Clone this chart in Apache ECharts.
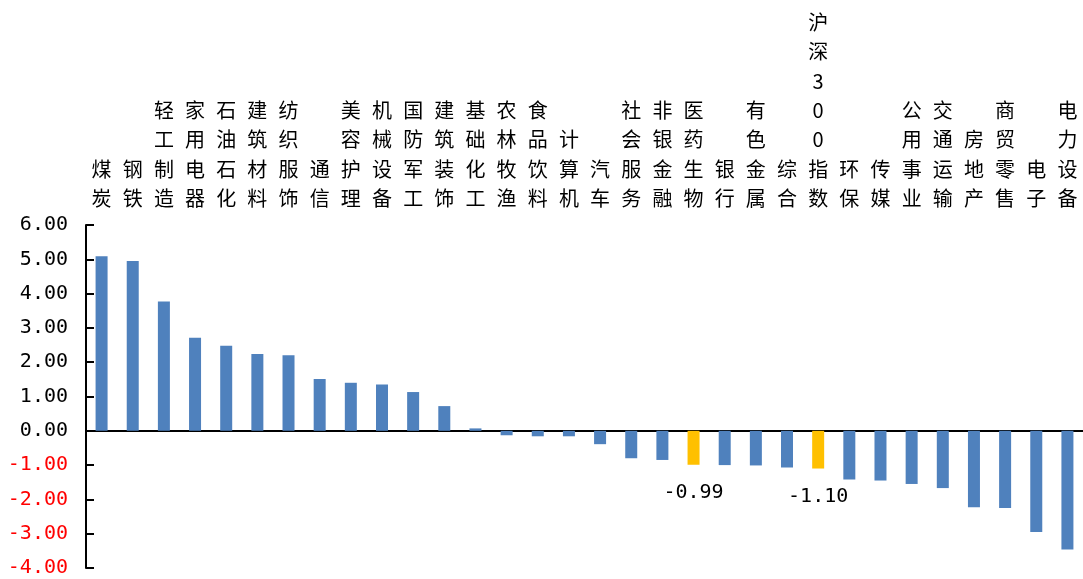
<!DOCTYPE html>
<html>
<head>
<meta charset="utf-8">
<script src="https://cdn.jsdelivr.net/npm/echarts@6/dist/echarts.min.js"></script>
<style>
  html, body { margin: 0; padding: 0; background: #fff; }
  #main { width: 1083px; height: 579px; }
</style>
</head>
<body>
<div id="main"></div>
<script>
// 行业涨跌幅（%）
var categories = ['煤炭', '钢铁', '轻工制造', '家用电器', '石油石化', '建筑材料', '纺织服饰', '通信',
  '美容护理', '机械设备', '国防军工', '建筑装饰', '基础化工', '农林牧渔', '食品饮料', '计算机',
  '汽车', '社会服务', '非银金融', '医药生物', '银行', '有色金属', '综合', '沪深300指数',
  '环保', '传媒', '公用事业', '交通运输', '房地产', '商贸零售', '电子', '电力设备'];
var values = [5.09, 4.95, 3.77, 2.71, 2.48, 2.24, 2.20, 1.51,
  1.40, 1.35, 1.13, 0.72, 0.07, -0.13, -0.16, -0.16,
  -0.39, -0.80, -0.85, -0.99, -1.00, -1.01, -1.07, -1.10,
  -1.42, -1.45, -1.55, -1.67, -2.23, -2.25, -2.95, -3.46];
var highlights = ['医药生物', '沪深300指数'];

var font = '"Noto Sans CJK SC", "Noto Sans", sans-serif';
var numFont = '"DejaVu Sans Mono", monospace';

var chart = echarts.init(document.getElementById('main'));

var barData = values.map(function (v, i) {
  var hi = highlights.indexOf(categories[i]) >= 0;
  var item = { value: v, itemStyle: { color: hi ? '#FFC000' : '#4F81BD' } };
  if (hi) {
    item.label = {
      show: true,
      position: 'bottom',
      distance: 18,
      fontSize: 20,
      color: '#000',
      fontFamily: numFont,
      formatter: function (p) { return p.value.toFixed(2); }
    };
  }
  return item;
});

chart.setOption({
  animation: false,
  grid: { left: 86, right: 0, top: 225, bottom: 11 },
  xAxis: [
    {
      type: 'category',
      data: categories,
      axisLine: { onZero: true, lineStyle: { color: '#000', width: 2 } },
      axisTick: { show: false },
      axisLabel: { show: false }
    },
    {
      type: 'category',
      data: categories,
      position: 'top',
      axisLine: { show: false },
      axisTick: { show: false },
      axisLabel: {
        fontSize: 20,
        lineHeight: 29.3,
        margin: 12,
        color: '#000',
        fontFamily: font,
        interval: 0,
        formatter: function (v) { return v.split('').join('\n'); }
      }
    }
  ],
  yAxis: {
    type: 'value',
    min: -4,
    max: 6,
    interval: 1,
    splitLine: { show: false },
    axisLine: { show: true, lineStyle: { color: '#000', width: 2 } },
    axisTick: { show: true, inside: true, length: 8, lineStyle: { color: '#000', width: 2 } },
    axisLabel: {
      fontSize: 20,
      margin: 18,
      fontFamily: numFont,
      color: function (v) { return Number(v) < 0 ? '#FF0000' : '#000'; },
      formatter: function (v) { return v.toFixed(2); }
    }
  },
  series: [{
    type: 'bar',
    xAxisIndex: 0,
    barWidth: 12,
    data: barData
  }]
});
</script>
</body>
</html>
